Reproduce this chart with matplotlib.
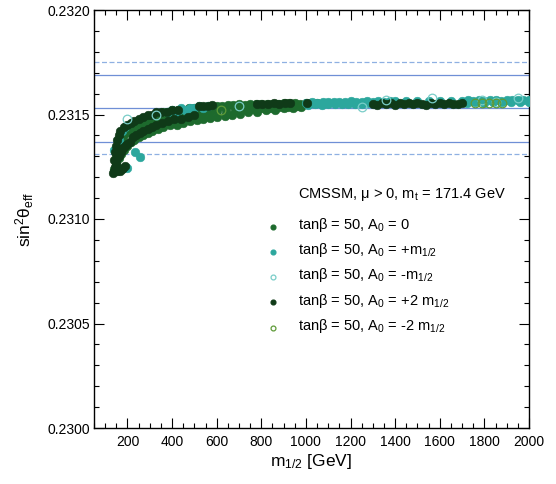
import matplotlib
matplotlib.use("Agg")
import matplotlib.pyplot as plt
from matplotlib.ticker import MultipleLocator, FormatStrFormatter

plt.rcParams['font.family'] = ['Liberation Sans', 'DejaVu Sans']
plt.rcParams['mathtext.fontset'] = 'custom'
plt.rcParams['mathtext.rm'] = 'Liberation Sans'
plt.rcParams['mathtext.it'] = 'Liberation Sans'
plt.rcParams['mathtext.default'] = 'regular'

# ---------------- data ----------------
# experimental band
sw_center = 0.23153
sw_solid = [0.23137, 0.23169]
sw_dashed = [0.23131, 0.23175]

# tan(beta)=50, A0 = 0
a0_zero_x = [150,160,170,180,190,200,215,230,245,260,280,300,320,340,360,380,400,425,450,475,500,525,550,575,600,625,650,675,700,725,750,775,800,825,850,875,900,925,950,975,1000,1025,1050,1075,1100,
             140,150,160,170,185,200,215,230,250,270,290,310,335,360,390,420,450,480,510,540,570,600,635,670,705,740,780,820,860,900,940,980,
             450,480,510,540,570,600,640,680,720,760,800,840,880,920,960,
             220,240,260,280,300,325,350,375,400,425]
a0_zero_y = [.231310,.231340,.231370,.231390,.231410,.231420,.231440,.231450,.231460,.231470,.231480,.231490,.231500,.231500,.231510,.231510,.231520,.231520,.231520,.231530,.231530,.231530,.231535,.231540,.231540,.231540,.231545,.231545,.231550,.231545,.231550,.231550,.231548,.231552,.231552,.231550,.231553,.231553,.231555,.231552,.231555,.231555,.231556,.231555,.231556,
             .231240,.231270,.231290,.231310,.231330,.231350,.231370,.231380,.231390,.231400,.231410,.231420,.231430,.231440,.231450,.231452,.231460,.231470,.231472,.231480,.231482,.231490,.231492,.231500,.231502,.231510,.231512,.231520,.231522,.231530,.231532,.231535,
             .231490,.231495,.231500,.231505,.231510,.231515,.231518,.231522,.231525,.231528,.231530,.231532,.231535,.231538,.231540,
             .231400,.231420,.231435,.231445,.231455,.231465,.231472,.231480,.231485,.231490]

# tan(beta)=50, A0 = +m1/2
a0_plus_x = [1000,1025,1050,1075,1100,1125,1150,1175,1200,1225,1250,1275,1300,1325,1350,1375,1400,1450,1500,1550,1600,1650,1700,1725,1750,1775,1800,1825,1850,1875,1900,1925,1950,1975,2000,
             1010,1040,1070,1100,1130,1160,1190,1220,1250,1280,1720,1760,1800,1840,1880,1920,1960,2000,
             140,160,175,190,198,234,256,380,400,420,440,460,480,500,520,540,560]
a0_plus_y = [.231555,.231560,.231556,.231560,.231562,.231558,.231562,.231560,.231563,.231560,.231562,.231563,.231562,.231564,.231562,.231563,.231565,.231564,.231565,.231566,.231565,.231566,.231565,.231567,.231565,.231567,.231566,.231568,.231567,.231566,.231568,.231568,.231569,.231568,.231570,
             .231545,.231548,.231546,.231550,.231548,.231550,.231552,.231550,.231552,.231553,.231556,.231558,.231557,.231559,.231558,.231560,.231560,.231561,
             .231330,.231380,.231420,.231440,.231244,.231321,.231297,.231510,.231520,.231510,.231530,.231520,.231530,.231530,.231540,.231530,.231540]

# tan(beta)=50, A0 = -m1/2
a0_minus_x = [200,330,700,1250,1360,1565,1790,1850,1950]
a0_minus_y = [.231480,.231500,.231540,.231535,.231570,.231580,.231570,.231560,.231578]

# tan(beta)=50, A0 = +2 m1/2
a0_plus2_x = [135,140,145,150,155,160,170,180,190,200,210,225,240,255,270,290,310,330,355,380,410,440,470,500,
              145,155,165,175,182,190,
              140,145,150,155,160,165,
              185,200,215,230,250,270,290,310,330,350,375,400,425,
              520,540,560,580,780,805,830,855,880,905,930,1005,
              1300,1320,1340,1360,1380,1400,1420,1440,1460,1480,1500,1520,1540,1560,1580,1600,1620,1640,1660,1680,1700]
a0_plus2_y = [.231220,.231230,.231250,.231270,.231290,.231300,.231320,.231340,.231350,.231360,.231370,.231390,.231400,.231410,.231420,.231430,.231440,.231450,.231460,.231470,.231480,.231480,.231490,.231500,
              .231235,.231228,.231232,.231240,.231245,.231252,
              .231280,.231320,.231350,.231380,.231400,.231420,
              .231440,.231450,.231460,.231470,.231480,.231490,.231500,.231500,.231510,.231510,.231510,.231520,.231520,
              .231540,.231540,.231542,.231545,.231550,.231552,.231550,.231553,.231552,.231555,.231553,.231555,
              .231550,.231545,.231555,.231548,.231553,.231547,.231555,.231549,.231554,.231548,.231555,.231550,.231547,.231554,.231550,.231556,.231549,.231553,.231551,.231548,.231554]

# tan(beta)=50, A0 = -2 m1/2
a0_minus2_x = [620,1760,1790,1820,1850,1880]
a0_minus2_y = [.231520,.231553,.231556,.231553,.231556,.231556]

labels = [r'tan$\beta$ = 50, A$_0$ = 0',
          r'tan$\beta$ = 50, A$_0$ = +m$_{1/2}$',
          r'tan$\beta$ = 50, A$_0$ = -m$_{1/2}$',
          r'tan$\beta$ = 50, A$_0$ = +2 m$_{1/2}$',
          r'tan$\beta$ = 50, A$_0$ = -2 m$_{1/2}$']
legend_title = r'CMSSM, $\mu$ > 0, m$_t$ = 171.4 GeV'

# ---------------- figure ----------------
fig = plt.figure(figsize=(5.56, 4.84), dpi=100)
ax = fig.add_axes([94/556, 56/484, 435/556, 418/484])

c_zero = '#1d6a2d'
c_plus = '#2ca79d'
c_minus = '#79cdc8'
c_plus2 = '#0f3a18'
c_minus2 = '#5e9a38'

# band lines
ax.axhline(sw_center, color='#6f8fd6', lw=0.9, zorder=1)
for v in sw_solid:
    ax.axhline(v, color='#6f8fd6', lw=0.9, zorder=1)
for v in sw_dashed:
    ax.axhline(v, color='#8fb0e2', lw=0.9, ls=(0, (4, 2)), zorder=1)

ms = 6.2
ax.plot(a0_zero_x, a0_zero_y, 'o', ls='none', ms=ms, mfc=c_zero, mec=c_zero, mew=0.4, zorder=2)
ax.plot(a0_plus_x, a0_plus_y, 'o', ls='none', ms=ms, mfc=c_plus, mec=c_plus, mew=0.4, zorder=3)
ax.plot(a0_plus2_x, a0_plus2_y, 'o', ls='none', ms=ms, mfc=c_plus2, mec=c_plus2, mew=0.4, zorder=4)
ax.plot(a0_minus_x, a0_minus_y, 'o', ls='none', ms=ms, mfc='none', mec=c_minus, mew=0.9, zorder=5)
ax.plot(a0_minus2_x, a0_minus2_y, 'o', ls='none', ms=ms, mfc='none', mec=c_minus2, mew=0.9, zorder=5)

ax.set_xlim(50, 2000)
ax.set_ylim(0.2300, 0.2320)
ax.xaxis.set_major_locator(MultipleLocator(200))
ax.xaxis.set_minor_locator(MultipleLocator(50))
ax.yaxis.set_major_locator(MultipleLocator(0.0005))
ax.yaxis.set_minor_locator(MultipleLocator(0.0001))
ax.yaxis.set_major_formatter(FormatStrFormatter('%.4f'))
ax.tick_params(which='both', direction='in', top=True, right=True, labelsize=10, width=0.8)
ax.tick_params(which='major', length=7.5)
ax.tick_params(which='minor', length=3.5)
ax.tick_params(axis='y', pad=3)
ax.tick_params(axis='x', pad=5)
for s in ax.spines.values():
    s.set_linewidth(1.0)

ax.set_xlabel(r'm$_{1/2}$ [GeV]', fontsize=12.5, labelpad=2)
ax.set_ylabel(r'sin$^2\theta_{eff}$', fontsize=12.5, labelpad=8)

# legend (manual)
ax.text(0.469, 0.550, legend_title, transform=ax.transAxes, fontsize=10.5, va='baseline', ha='left')
row_base = [0.476, 0.416, 0.356, 0.294, 0.234]
row_mark = [0.481, 0.421, 0.361, 0.301, 0.239]
styles = [dict(mfc=c_zero, mec=c_zero), dict(mfc=c_plus, mec=c_plus),
          dict(mfc='white', mec=c_minus), dict(mfc=c_plus2, mec=c_plus2),
          dict(mfc='white', mec=c_minus2)]
for lab, yb, ym, st in zip(labels, row_base, row_mark, styles):
    ax.plot([0.4115], [ym], 'o', ms=3.5, mew=0.9, transform=ax.transAxes, clip_on=False, zorder=6, **st)
    ax.text(0.469, yb, lab, transform=ax.transAxes, fontsize=10.5, va='baseline', ha='left')

fig.savefig('out.png', dpi=100, facecolor='white')
